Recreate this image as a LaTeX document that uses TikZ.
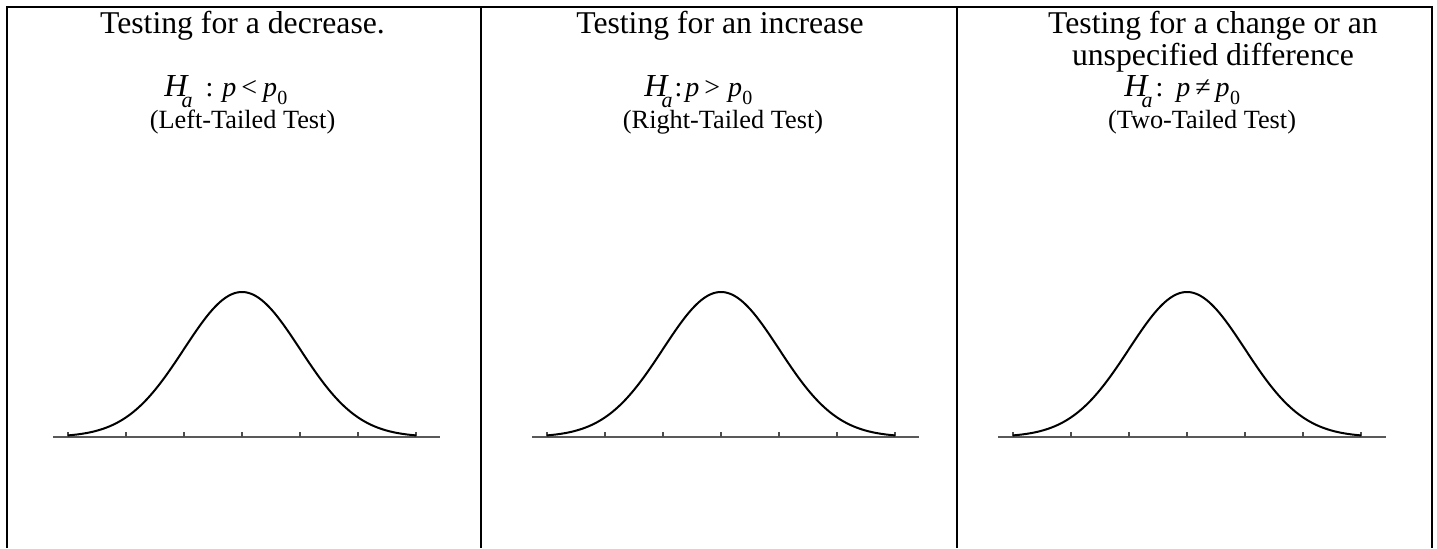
\documentclass[tikz,border=0pt]{standalone}
\usepackage{fontspec}
\setmainfont{Liberation Serif}
\newcommand{\ttlfont}{\fontsize{15.85pt}{16pt}\selectfont}
\newcommand{\subfont}{\fontsize{13.15pt}{14pt}\selectfont}
\newcommand{\Hf}{\fontsize{16pt}{16pt}\selectfont\itshape}
\newcommand{\af}{\fontsize{11pt}{11pt}\selectfont\itshape}
\newcommand{\pf}{\fontsize{14pt}{14pt}\selectfont}
\newcommand{\zf}{\fontsize{10pt}{10pt}\selectfont}
\newcommand{\HA}{{\Hf H}\kern-3pt\raisebox{-5.5pt}{\af a}}
\newcommand{\PP}{{\pf\itshape p}}
\newcommand{\PZ}{{\pf\itshape p}\kern0.2pt\raisebox{-4pt}{\zf 0}}
\begin{document}
\begin{tikzpicture}[x=0.5pt,y=-0.5pt,
  txt/.style={inner sep=0pt,anchor=base},
  mth/.style={inner sep=0pt,anchor=base west},
  frame/.style={line width=1pt,black},
  axisline/.style={line width=0.7pt,black!65},
  bell/.style={line width=1pt,black,smooth},
  tickmark/.style={line width=0.6pt,black!70}]
\useasboundingbox (0,0) rectangle (1437,548);
% table lines
\draw[frame] (7,548) -- (7,7) -- (1432,7) -- (1432,548);
\draw[frame] (480.5,7) -- (480.5,548);
\draw[frame] (956.5,7) -- (956.5,548);
% titles
\node[txt,font=\ttlfont] (t1) at (242.5,33) {Testing for a decrease.};
\node[txt,font=\ttlfont] (t2) at (720,33) {Testing for an increase};
\node[txt,font=\ttlfont] (t3a) at (1213,33) {Testing for a change or an};
\node[txt,font=\ttlfont] (t3b) at (1213,65) {unspecified difference};
% hypotheses
\node[mth] (h1) at (164,96) {\HA\hspace{6.5pt}{\pf :}\hspace{4.5pt}\PP\hspace{2.5pt}{\pf <}\hspace{3pt}\PZ};
\node[mth] (h2) at (644,96) {\HA\hspace{1pt}{\pf :}\hspace{1.5pt}\PP\hspace{2.5pt}{\pf >}\hspace{4pt}\PZ};
\node[mth] (h3) at (1124,96) {\HA\hspace{1.5pt}{\pf :}\hspace{6.5pt}\PP\hspace{2.5pt}{\pf ≠}\hspace{2.5pt}\PZ};
% subtitles
\node[txt,font=\subfont] (s1) at (242.5,128) {(Left-Tailed Test)};
\node[txt,font=\subfont] (s2) at (723,128) {(Right-Tailed Test)};
\node[txt,font=\subfont] (s3) at (1202,128) {(Two-Tailed Test)};
% curves
\foreach \c/\a/\b in {242/53/440, 721/532/919, 1187/998/1386}{
  \draw[axisline] (\a,437) -- (\b,437);
  \foreach \k in {-3,...,3}{
    \draw[tickmark] ({\c+58*\k},437) -- ({\c+58*\k},432);
  }
  \draw[bell] plot[domain=-3:3,samples=80] ({\c+58*\x},{437-145*exp(-(\x)^2/2)});
}
\end{tikzpicture}
\end{document}
